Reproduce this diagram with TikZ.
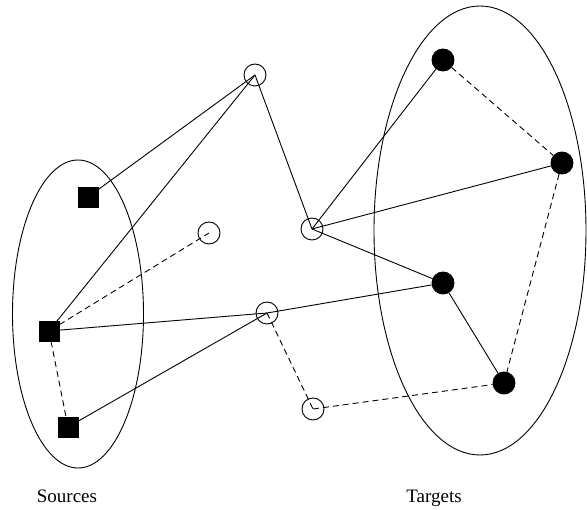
\documentclass[tikz,border=0pt]{standalone}
\usepackage{fontspec}
\setmainfont{Liberation Serif}
\usepackage{tikz}

\begin{document}
\begin{tikzpicture}[x=1pt,y=-1pt,line width=0.9pt,
   source/.style={draw,fill=black,minimum size=20pt,inner sep=0pt},
   target/.style={circle,draw,fill=black,minimum size=22pt,inner sep=0pt},
   relay/.style={circle,draw,minimum size=22pt,inner sep=0pt},
   link/.style={line width=0.9pt},
   backup/.style={line width=0.9pt,dash pattern=on 6pt off 4pt},
   caption/.style={anchor=base,font=\fontsize{19}{22}\selectfont}]
   \useasboundingbox (0,0) rectangle (587,510);

   \draw (78,314) ellipse (65.5 and 154);
   \draw (480,230.5) ellipse (106 and 224.5);

   \coordinate (r1) at (255,75);
   \coordinate (r2) at (312,229);
   \coordinate (r3) at (209,233);
   \coordinate (r4) at (267,313);
   \coordinate (r5) at (313,409);

   \node[source] (s1) at (88,197) {};
   \node[source] (s2) at (49,331) {};
   \node[source] (s3) at (68,427) {};

   \node[target] (t1) at (443,60) {};
   \node[target] (t2) at (562,163) {};
   \node[target] (t3) at (443,283) {};
   \node[target] (t4) at (504,383) {};

   \draw[link] (s1) -- (r1);
   \draw[link] (s2.center) -- (r1);
   \draw[link] (r1) -- (r2);
   \draw[link] (r2) -- (t1);
   \draw[link] (r2) -- (t2);
   \draw[link] (r2) -- (t3);
   \draw[link] (s2) -- (r4);
   \draw[link] (r4) -- (t3);
   \draw[link] (s3) -- (r4);
   \draw[link] (t3) -- (t4);

   \draw[backup] (s2) -- (r3);
   \draw[backup] (s2) -- (s3);
   \draw[backup] (r4) -- (r5);
   \draw[backup] (r5) -- (t4);
   \draw[backup] (t1) -- (t2);
   \draw[backup] (t2) -- (t4);

   \foreach \r in {r1,r2,r3,r4,r5}
      \node[relay] at (\r) {};

   \node[caption] (srclabel) at (67,503) {Sources};
   \node[caption] (tgtlabel) at (434,503) {Targets};
\end{tikzpicture}
\end{document}
